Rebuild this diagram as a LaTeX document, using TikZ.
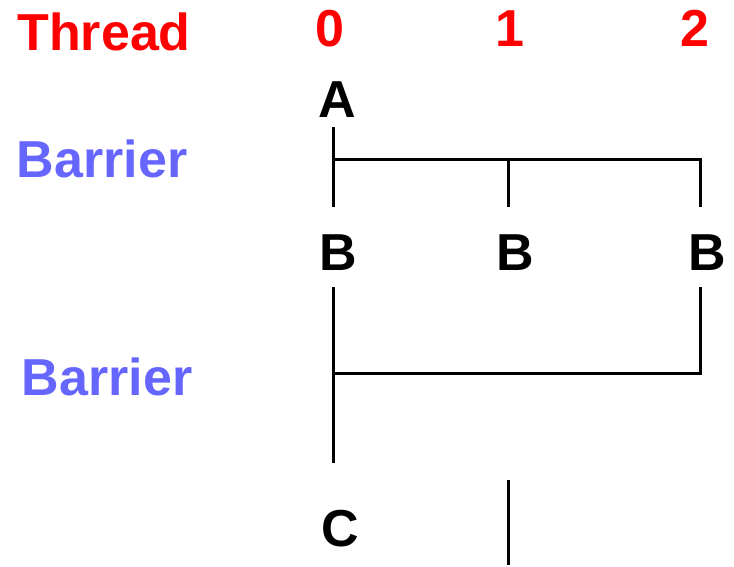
\documentclass[tikz,border=0pt]{standalone}
\usepackage{fontspec}
\setmainfont{Liberation Sans}
\definecolor{threadred}{RGB}{255,0,0}
\definecolor{barrierblue}{RGB}{102,102,255}
\begin{document}
\begin{tikzpicture}[x=1pt,y=-1pt,
  lbl/.style={inner sep=0pt,anchor=base,font=\fontsize{52}{60}\selectfont\bfseries},
  head/.style={lbl,text=threadred},
  bar/.style={lbl,text=barrierblue},
  op/.style={lbl,text=black},
  wire/.style={draw=black,line width=3pt,line join=miter}]
\useasboundingbox (0,0) rectangle (734,566);

% column headings
\node[head] (thread) at (104,50) {Thread};
\node[head] (t0) at (330,46) {0};
\node[head] (t1) at (509.5,46) {1};
\node[head] (t2) at (695,46) {2};

% barrier labels
\node[bar] (bar1) at (102,177) {Barrier};
\node[bar] (bar2) at (107,395) {Barrier};

% operations per thread
\node[op] (a0) at (337,117) {A};
\node[op] (b0) at (338.5,270) {B};
\node[op] (b1) at (515,270) {B};
\node[op] (b2) at (707,270) {B};
\node[op] (c0) at (340,546) {C};

% end points of the thread lines
\coordinate (s0) at (333,127);
\coordinate (j0) at (333,159);
\coordinate (j1) at (508,159);
\coordinate (j2) at (700,159);
\coordinate (e0) at (333,207);
\coordinate (e1) at (508,207);
\coordinate (e2) at (700,207);
\coordinate (u0) at (333,287);
\coordinate (u2) at (700,287);
\coordinate (k0) at (333,373);
\coordinate (k2) at (700,373);
\coordinate (v0) at (333,463);
\coordinate (w1) at (508,480);
\coordinate (x1) at (508,565);

% first barrier
\draw[wire] (s0) -- (e0);
\draw[wire] (j0) -- (j2) -- (e2);
\draw[wire] (j1) -- (e1);

% second barrier
\draw[wire] (u0) -- (v0);
\draw[wire] (u2) -- (k2) -- (k0);

% thread 1 continues
\draw[wire] (w1) -- (x1);
\end{tikzpicture}
\end{document}
